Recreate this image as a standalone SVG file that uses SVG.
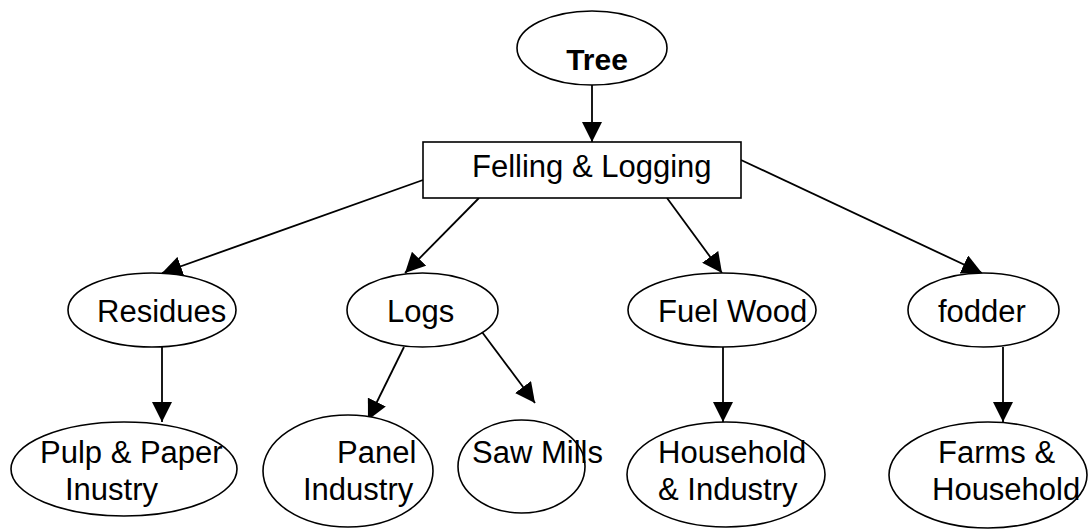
<svg xmlns="http://www.w3.org/2000/svg" width="1089" height="529" viewBox="0 0 1089 529">
  <style>
    .shape { fill: #ffffff; stroke: #000000; stroke-width: 1.6; }
    .label { font-family: "Liberation Sans", Arial, sans-serif; font-size: 31px; fill: #000000; }
    .bold { font-weight: bold; font-size: 30px; }
    .edge { stroke: #000000; stroke-width: 1.8; fill: none; marker-end: url(#arrow); }
  </style>
  <defs>
    <marker id="arrow" markerUnits="userSpaceOnUse" markerWidth="20" markerHeight="20" refX="20" refY="10" orient="auto">
      <path d="M0,0 L20,10 L0,20 z" fill="#000000"/>
    </marker>
  </defs>

  <rect width="1089" height="529" fill="#ffffff"/>

  <!-- connectors -->
  <g id="connectors">
    <line class="edge" x1="592" y1="85" x2="592" y2="142"/>
    <line class="edge" x1="423" y1="180" x2="162" y2="273"/>
    <line class="edge" x1="479" y1="198" x2="405" y2="273"/>
    <line class="edge" x1="667" y1="198" x2="722" y2="273"/>
    <line class="edge" x1="741" y1="160" x2="982" y2="273"/>
    <line class="edge" x1="162" y1="347" x2="162" y2="422"/>
    <line class="edge" x1="404" y1="347" x2="368" y2="420"/>
    <line class="edge" x1="479" y1="328" x2="535" y2="403"/>
    <line class="edge" x1="723" y1="347" x2="723" y2="422"/>
    <line class="edge" x1="1003" y1="347" x2="1003" y2="422"/>
  </g>

  <!-- nodes -->
  <g id="tree">
    <ellipse class="shape" cx="592" cy="48" rx="75" ry="37"/>
    <text class="label bold" x="597" y="70" text-anchor="middle">Tree</text>
  </g>

  <g id="felling">
    <rect class="shape" x="423" y="142" width="318" height="56"/>
    <text class="label" x="472" y="177">Felling &amp; Logging</text>
  </g>

  <g id="residues">
    <ellipse class="shape" cx="152" cy="310" rx="84" ry="37"/>
    <text class="label" x="97" y="322">Residues</text>
  </g>

  <g id="logs">
    <ellipse class="shape" cx="422.5" cy="310" rx="75.5" ry="37"/>
    <text class="label" x="387" y="322">Logs</text>
  </g>

  <g id="fuelwood">
    <ellipse class="shape" cx="722" cy="310" rx="94" ry="37"/>
    <text class="label" x="658" y="322">Fuel Wood</text>
  </g>

  <g id="fodder">
    <ellipse class="shape" cx="983.5" cy="310" rx="75.5" ry="37"/>
    <text class="label" x="938" y="322">fodder</text>
  </g>

  <g id="pulp">
    <ellipse class="shape" cx="124" cy="469" rx="113" ry="47"/>
    <text class="label" x="40" y="463">Pulp &amp; Paper</text>
    <text class="label" x="65" y="500">Inustry</text>
  </g>

  <g id="panel">
    <ellipse class="shape" cx="348" cy="471" rx="85" ry="56"/>
    <text class="label" x="337" y="463">Panel</text>
    <text class="label" x="303" y="500">Industry</text>
  </g>

  <g id="sawmills">
    <ellipse class="shape" cx="521.5" cy="466.5" rx="63.5" ry="46.5"/>
    <text class="label" x="472" y="463">Saw Mills</text>
  </g>

  <g id="household">
    <ellipse class="shape" cx="726" cy="474.5" rx="99" ry="52.5"/>
    <text class="label" x="658" y="463">Household</text>
    <text class="label" x="658" y="500">&amp; Industry</text>
  </g>

  <g id="farms">
    <ellipse class="shape" cx="988" cy="475" rx="99" ry="53"/>
    <text class="label" x="938" y="463">Farms &amp;</text>
    <text class="label" x="932" y="500">Household</text>
  </g>
</svg>
